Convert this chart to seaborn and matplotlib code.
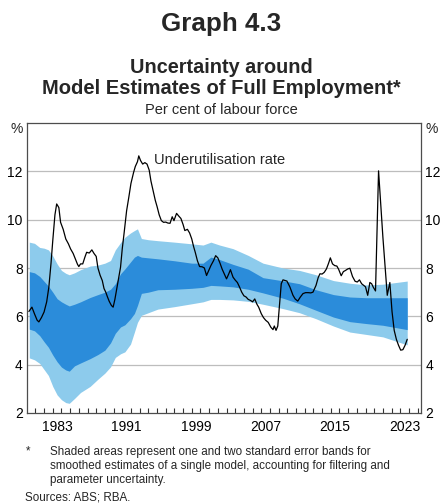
import numpy as np
import pandas as pd
import matplotlib
matplotlib.use("Agg")
import matplotlib.pyplot as plt
import seaborn as sns
from matplotlib.ticker import FixedLocator, NullFormatter

# underutilisation rate (per cent of labour force)
line_years = [1980.25, 1980.6, 1980.9, 1981.2, 1981.4, 1981.7, 1982.0, 1982.3, 1982.55, 1982.8,
              1983.0, 1983.25, 1983.45, 1983.7, 1983.9, 1984.2, 1984.5, 1984.8, 1985.05, 1985.35,
              1985.6, 1985.85, 1986.0, 1986.2, 1986.45, 1986.7, 1986.9, 1987.2, 1987.5, 1987.75,
              1988.0, 1988.2, 1988.45, 1988.7, 1988.9, 1989.1, 1989.3, 1989.5, 1989.75, 1989.95,
              1990.15, 1990.4, 1990.6, 1990.8, 1991.0, 1991.2, 1991.5, 1991.75, 1992.0, 1992.3,
              1992.5, 1992.75, 1992.9, 1993.1, 1993.35, 1993.6, 1993.85, 1994.1, 1994.3, 1994.55,
              1994.8, 1995.0, 1995.25, 1995.5, 1995.75, 1996.0, 1996.25, 1996.5, 1996.75, 1996.95,
              1997.25, 1997.5, 1997.75, 1998.0, 1998.2, 1998.5, 1998.75, 1999.0, 1999.2, 1999.4,
              1999.65, 1999.9, 2000.2, 2000.45, 2000.7, 2000.95, 2001.2, 2001.5, 2001.75, 2002.0,
              2002.25, 2002.5, 2002.75, 2003.0, 2003.25, 2003.45, 2003.75, 2004.0, 2004.25, 2004.5,
              2004.75, 2005.0, 2005.25, 2005.5, 2005.75, 2006.0, 2006.25, 2006.5, 2006.7, 2007.0,
              2007.25, 2007.5, 2007.8, 2008.1, 2008.35, 2008.5, 2008.7, 2008.9, 2009.05, 2009.3,
              2009.5, 2009.75, 2009.95, 2010.3, 2010.65, 2010.9, 2011.2, 2011.5, 2011.8, 2012.1,
              2012.4, 2012.7, 2012.95, 2013.3, 2013.55, 2013.75, 2014.0, 2014.25, 2014.5, 2014.75,
              2014.95, 2015.2, 2015.45, 2015.7, 2015.9, 2016.2, 2016.45, 2016.7, 2016.95, 2017.2,
              2017.5, 2017.8, 2018.05, 2018.3, 2018.55, 2018.8, 2019.0, 2019.25, 2019.5, 2019.7,
              2019.9, 2020.15, 2020.5, 2021.0, 2021.5, 2021.8, 2022.05, 2022.3, 2022.55, 2022.8,
              2023.05, 2023.3, 2023.55, 2023.8]
underutil = [6.2, 6.38, 6.1, 5.84, 5.77, 5.95, 6.18, 6.6, 7.21, 8.2,
             9.13, 10.2, 10.65, 10.5, 9.89, 9.6, 9.2, 9.0, 8.79, 8.6,
             8.38, 8.15, 8.06, 8.17, 8.17, 8.45, 8.65, 8.62, 8.75, 8.6,
             8.48, 8.0, 7.7, 7.48, 7.15, 7.0, 6.8, 6.62, 6.45, 6.38,
             6.7, 7.21, 7.6, 8.03, 8.8, 9.41, 10.37, 10.92, 11.5, 11.95,
             12.2, 12.4, 12.64, 12.45, 12.3, 12.36, 12.3, 12.05, 11.6, 11.2,
             10.8, 10.55, 10.2, 9.96, 9.89, 9.9, 9.86, 9.85, 10.12, 9.96,
             10.26, 10.15, 10.05, 9.8, 9.55, 9.6, 9.45, 9.2, 8.9, 8.65,
             8.3, 8.06, 8.05, 8.0, 7.69, 7.9, 8.1, 8.3, 8.51, 8.42,
             8.2, 7.95, 7.75, 7.55, 7.75, 7.93, 7.62, 7.5, 7.4, 7.21,
             7.0, 6.85, 6.8, 6.7, 6.66, 6.6, 6.72, 6.5, 6.38, 6.11,
             5.95, 5.84, 5.75, 5.55, 5.45, 5.6, 5.42, 5.6, 6.25, 7.35,
             7.51, 7.48, 7.46, 7.21, 6.87, 6.72, 6.63, 6.8, 6.94, 6.98,
             6.98, 6.97, 7.0, 7.28, 7.6, 7.76, 7.75, 7.82, 7.96, 8.2,
             8.42, 8.17, 8.1, 8.08, 7.95, 7.68, 7.85, 7.9, 7.96, 7.99,
             7.65, 7.45, 7.42, 7.51, 7.35, 7.28, 7.22, 6.87, 7.4, 7.35,
             7.2, 7.05, 12.02, 9.27, 6.87, 7.4, 6.2, 5.42, 5.05, 4.8,
             4.6, 4.62, 4.8, 5.05]

# model estimate bands: +/- two and one standard errors
band_years = [1980.3, 1980.9, 1981.5, 1982.0, 1982.5, 1983.0, 1983.5, 1984.0, 1984.5, 1984.9,
              1985.5, 1986.2, 1987.3, 1988.2, 1989.0, 1989.65, 1990.2, 1990.8, 1991.3, 1991.95,
              1992.4, 1992.75, 1993.2, 1994.0, 1995.1, 1997.0, 1999.0, 2000.3, 2001.2, 2002.2,
              2003.75, 2005.5, 2007.2, 2009.5, 2011.4, 2013.3, 2015.3, 2017.2, 2019.1, 2021.0,
              2023.8]
outer_upper = [9.07, 9.02, 8.85, 8.82, 8.75, 8.5, 8.17, 7.9, 7.78, 7.72,
               7.8, 7.93, 8.08, 8.12, 8.2, 8.31, 8.75, 9.05, 9.27, 9.45,
               9.55, 9.62, 9.22, 9.17, 9.13, 9.07, 9.0, 8.95, 9.07, 8.95,
               8.8, 8.52, 8.2, 8.0, 7.9, 7.72, 7.48, 7.37, 7.3, 7.33,
               7.46]
inner_upper = [7.85, 7.8, 7.65, 7.45, 7.25, 7.0, 6.73, 6.6, 6.5, 6.43,
               6.5, 6.6, 6.78, 6.9, 7.0, 7.12, 7.35, 7.76, 7.96, 8.25,
               8.45, 8.52, 8.45, 8.42, 8.38, 8.3, 8.2, 8.2, 8.45, 8.35,
               8.15, 7.95, 7.6, 7.47, 7.35, 7.1, 6.9, 6.8, 6.77, 6.77,
               6.77]
inner_lower = [5.47, 5.4, 5.2, 4.95, 4.72, 4.4, 4.12, 3.9, 3.78, 3.73,
               3.95, 4.07, 4.25, 4.42, 4.6, 4.9, 5.3, 5.56, 5.65, 5.9,
               6.12, 6.45, 6.95, 7.0, 7.1, 7.12, 7.16, 7.2, 7.28, 7.26,
               7.22, 7.12, 6.97, 6.75, 6.52, 6.25, 5.97, 5.78, 5.7, 5.63,
               5.45]
outer_lower = [4.28, 4.2, 4.05, 3.8, 3.55, 3.1, 2.75, 2.55, 2.43, 2.4,
               2.6, 2.85, 3.1, 3.4, 3.65, 3.91, 4.3, 4.45, 4.53, 4.85,
               5.35, 5.75, 6.04, 6.15, 6.3, 6.4, 6.52, 6.6, 6.7, 6.7,
               6.68, 6.62, 6.5, 6.32, 6.15, 5.9, 5.6, 5.35, 5.25, 5.15,
               4.82]

year_labels = [1983, 1991, 1999, 2007, 2015, 2023]
y_ticks = [2, 4, 6, 8, 10, 12]

light_blue = "#8dcbec"
dark_blue = "#2b8cda"

sns.set_theme(style="white")
plt.rcParams["font.family"] = ["Liberation Sans", "DejaVu Sans"]

fig = plt.figure(figsize=(4.42, 5.03), dpi=100)
ax = fig.add_axes([26.7 / 442, 90 / 503, (421.3 - 26.7) / 442, 290 / 503])

ax.fill_between(band_years, outer_lower, outer_upper, color=light_blue, lw=0, zorder=2)
ax.fill_between(band_years, inner_lower, inner_upper, color=dark_blue, lw=0, zorder=3)
sns.lineplot(x=line_years, y=underutil, ax=ax, color="black", lw=0.9, zorder=4)

ax.set_xlim(1980, 2025.42)
ax.set_ylim(2, 14)
ax.set_xlabel("")
ax.set_ylabel("")

# horizontal gridlines
for v in y_ticks[1:]:
    ax.axhline(v, color="#bdbdbd", lw=0.9, zorder=1)

# y tick labels both sides, % at top
ax.set_yticks(y_ticks)
ax.set_yticklabels([str(v) for v in y_ticks])
ax.tick_params(axis="y", length=0, labelsize=10, pad=2.8, colors="black",
               left=True, right=True, labelleft=True, labelright=True)
ax.text(-0.0105, 13.77, "%", transform=ax.get_yaxis_transform(), ha="right", va="center",
        fontsize=10)
ax.text(1.011, 13.77, "%", transform=ax.get_yaxis_transform(), ha="left", va="center",
        fontsize=10)

# x axis: small inward ticks every year, labels centred in the year
ax.xaxis.set_minor_locator(FixedLocator(range(1981, 2026)))
ax.xaxis.set_minor_formatter(NullFormatter())
ax.set_xticks([y + 0.5 for y in year_labels])
ax.set_xticklabels([str(y) for y in year_labels])
ax.tick_params(axis="x", which="major", length=0, labelsize=10, pad=5, colors="black")
ax.tick_params(axis="x", which="minor", bottom=True, direction="in", length=3.3, width=0.8,
               color="#333333")

for s in ax.spines.values():
    s.set_visible(True)
    s.set_color("#4d4d4d")
    s.set_linewidth(0.9)

ax.text(1994.69, 12.46, "Underutilisation rate", fontsize=10.5, ha="left", va="center",
        zorder=5)

# titles
H = 503.0
fig.text(0.5, 1 - 30.7 / H, "Graph 4.3", ha="center", va="baseline", fontsize=18.7,
         fontweight="bold")
fig.text(0.5, 1 - 72.7 / H, "Uncertainty around", ha="center", va="baseline", fontsize=14.3,
         fontweight="bold")
fig.text(0.5, 1 - 94.3 / H, "Model Estimates of Full Employment*", ha="center", va="baseline",
         fontsize=14.5, fontweight="bold")
fig.text(0.5, 1 - 114.3 / H, "Per cent of labour force", ha="center", va="baseline",
         fontsize=10.5)

# footnotes
fig.text(26.0 / 442, 1 - 454.0 / H, "*", ha="left", va="baseline", fontsize=8.4)
notes = ["Shaded areas represent one and two standard error bands for",
         "smoothed estimates of a single model, accounting for filtering and",
         "parameter uncertainty."]
for i, line in enumerate(notes):
    fig.text(50.0 / 442, 1 - (455.0 + 14.2 * i) / H, line, ha="left", va="baseline",
             fontsize=8.4)
fig.text(24.7 / 442, 1 - 500.5 / H, "Sources: ABS; RBA.", ha="left", va="baseline",
         fontsize=8.4)

fig.savefig("out.png", dpi=100)
